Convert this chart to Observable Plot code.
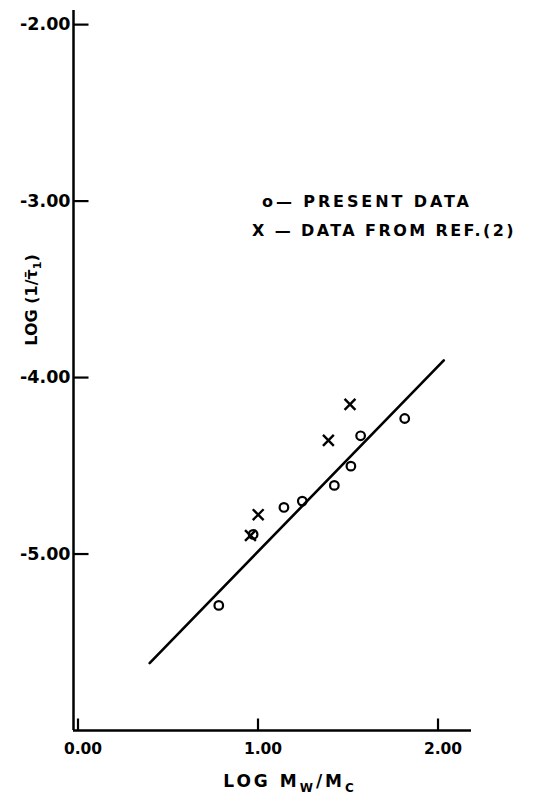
<!DOCTYPE html>
<html>
<head>
<meta charset="utf-8">
<script src="https://cdn.jsdelivr.net/npm/d3@7"></script>
<script src="https://cdn.jsdelivr.net/npm/@observablehq/plot@0.6"></script>
<style>
  html, body { margin: 0; padding: 0; background: #fff; }
  #wrap { position: relative; width: 533px; height: 803px; font-family: "DejaVu Sans", sans-serif; font-weight: bold; color: #000; }
  #wrap svg { position: absolute; left: 0; top: 0; }
  .ann { position: absolute; white-space: nowrap; }
</style>
</head>
<body>
<div id="wrap"></div>
<script>
// ---- data ----
const xTicks = [0, 1, 2];
const yTicks = [-2, -3, -4, -5];

// present data (circles): log Mw/Mc, log(1/tau1)
const presentX = [0.782, 0.973, 1.144, 1.246, 1.424, 1.516, 1.570, 1.815];
const presentY = [-5.291, -4.889, -4.736, -4.700, -4.611, -4.502, -4.330, -4.232];

// data from ref. (2) (crosses)
const refX = [0.958, 1.001, 1.391, 1.511];
const refY = [-4.895, -4.777, -4.356, -4.152];

// fitted straight line end points
const fitX = [0.398, 2.032];
const fitY = [-5.618, -3.903];

const present = presentX.map((x, i) => ({x, y: presentY[i]}));
const ref = refX.map((x, i) => ({x, y: refY[i]}));
const fit = fitX.map((x, i) => ({x, y: fitY[i]}));

const xDomain = [-0.025, 2.186];
const yDomain = [-6, -1.92];

const fmt = d => "-" + Math.abs(d).toFixed(2);
const fmtX = d => d.toFixed(2);

// inward tick symbols (drawn from the axis into the frame)
const tickRight = {draw(ctx) { ctx.moveTo(0, 0); ctx.lineTo(15, 0); }};
const tickUp = {draw(ctx) { ctx.moveTo(0, 0); ctx.lineTo(0, -12); }};

const chart = Plot.plot({
  width: 533,
  height: 803,
  marginLeft: 73,
  marginRight: 62,
  marginTop: 10,
  marginBottom: 73,
  x: {domain: xDomain, axis: null},
  y: {domain: yDomain, axis: null},
  style: {fontFamily: "DejaVu Sans, sans-serif", fontSize: "16px", fontWeight: "bold", color: "#000", background: "#fff"},
  marks: [
    Plot.ruleX([xDomain[0]], {stroke: "#000", strokeWidth: 2.5}),
    Plot.ruleY([yDomain[0]], {stroke: "#000", strokeWidth: 2.5}),
    Plot.dot(xTicks, {x: d => d, y: () => yDomain[0], symbol: tickUp, stroke: "#000", strokeWidth: 2.2, fill: "none"}),
    Plot.dot(yTicks, {x: () => xDomain[0], y: d => d, symbol: tickRight, stroke: "#000", strokeWidth: 2.2, fill: "none"}),
    Plot.text(xTicks, {x: d => d, y: () => yDomain[0], text: fmtX, dx: 5, dy: 19, fontSize: 15.5, fill: "#000"}),
    Plot.text(yTicks, {x: () => xDomain[0], y: d => d, text: fmt, textAnchor: "end", dx: -3, fontSize: 17.5, fill: "#000"}),
    Plot.line(fit, {x: "x", y: "y", stroke: "#000", strokeWidth: 2.6}),
    Plot.dot(present, {x: "x", y: "y", r: 4.3, stroke: "#000", strokeWidth: 2.2, fill: "none"}),
    Plot.dot(ref, {x: "x", y: "y", r: 5, symbol: "times", stroke: "#000", strokeWidth: 2.4})
  ]
});

const wrap = document.getElementById("wrap");
wrap.appendChild(chart);

function ann(html, css) {
  const d = document.createElement("div");
  d.className = "ann";
  d.innerHTML = html;
  Object.assign(d.style, css);
  wrap.appendChild(d);
  return d;
}

// legend
ann("o&#8212; PRESENT DATA", {left: "262px", top: "192px", fontSize: "16px", letterSpacing: "2.9px"});
ann("X &#8212; DATA FROM REF.(2)", {left: "252px", top: "221px", fontSize: "16px", letterSpacing: "2.4px"});

// x axis title
ann("LOG M<sub style='font-size:12px'>W</sub>/M<sub style='font-size:12px'>C</sub>", {left: "290px", top: "783px", fontSize: "17px", letterSpacing: "3px", transform: "translate(-50%,-50%)"});

// y axis title (rotated)
ann("LOG (1/&#964;&#772;<sub style='font-size:11px'>1</sub>)", {left: "33px", top: "300px", fontSize: "16px", transform: "translate(-50%,-50%) rotate(-90deg)"});
</script>
</body>
</html>
